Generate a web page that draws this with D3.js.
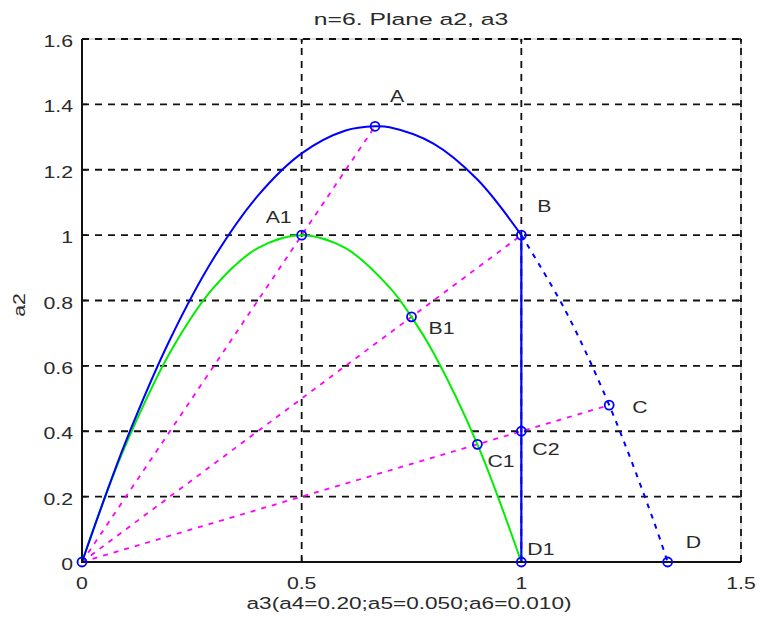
<!DOCTYPE html>
<html>
<head>
<meta charset="utf-8">
<script src="https://cdn.jsdelivr.net/npm/d3@7"></script>
<style>
  body { margin: 0; background: #fff; }
  svg text { font-family: "Liberation Sans", Arial, sans-serif; }
</style>
</head>
<body>
<svg id="chart" width="760" height="626"></svg>
<script>
// Outer boundary a2(a3): solid part up to B, dashed tail from B to D
const outerA3 = [0, 0.05, 0.1, 0.2, 0.3, 0.4, 0.5, 0.6, 0.667, 0.7, 0.8, 0.9, 1.0];
const outerA2 = [0, 0.19, 0.37, 0.68, 0.93, 1.12, 1.25, 1.32, 1.333, 1.33, 1.28, 1.17, 1.0];
const outerTailA3 = [1.0, 1.1, 1.2, 1.3, 1.333];
const outerTailA2 = [1.0, 0.77, 0.48, 0.13, 0];
// Inner boundary
const innerA3 = [0, 0.05, 0.1, 0.2, 0.3, 0.4, 0.5, 0.6, 0.7, 0.75, 0.8, 0.9, 1.0];
const innerA2 = [0, 0.19, 0.36, 0.64, 0.84, 0.96, 1.0, 0.96, 0.84, 0.75, 0.64, 0.36, 0];
// Marked points
const pointNames = ["O", "A", "A1", "B", "B1", "C", "C1", "C2", "D", "D1"];
const pointA3 = [0, 0.667, 0.5, 1.0, 0.75, 1.2, 0.9, 1.0, 1.333, 1.0];
const pointA2 = [0, 1.333, 1.0, 1.0, 0.75, 0.48, 0.36, 0.4, 0, 0];
// Rays from the origin and the vertical segment B-D1
const rayEnds = ["A", "B", "C"];
const segmentEnds = ["B", "D1"];
// Axes
const xTicks = [0, 0.5, 1, 1.5];
const xTickLabels = ["0", "0.5", "1", "1.5"];
const yTicks = [0, 0.2, 0.4, 0.6, 0.8, 1.0, 1.2, 1.4, 1.6];
const yTickLabels = ["0", "0.2", "0.4", "0.6", "0.8", "1", "1.2", "1.4", "1.6"];
const titleText = "n=6. Plane a2, a3";
const xLabelText = "a3(a4=0.20;a5=0.050;a6=0.010)";
const yLabelText = "a2";

const svg = d3.select("#chart");
const pLeft = 82, pRight = 741, pTop = 39, pBottom = 562;
const x = d3.scaleLinear().domain([0, 1.5]).range([pLeft, pRight]);
const y = d3.scaleLinear().domain([0, 1.6]).range([pBottom, pTop]);
const SX = 1.33;           // horizontal stretch of the text
const textColor = "#2a2a2a";

const pts = {};
pointNames.forEach((n, i) => pts[n] = [pointA3[i], pointA2[i]]);

// Plot frame (light top/right edges)
svg.append("line").attr("x1", pLeft).attr("x2", pRight).attr("y1", pTop).attr("y2", pTop)
  .attr("stroke", "#b8b8b8").attr("stroke-width", 1);
svg.append("line").attr("x1", pRight).attr("x2", pRight).attr("y1", pTop).attr("y2", pBottom)
  .attr("stroke", "#b8b8b8").attr("stroke-width", 1);

// Dashed grid
const grid = svg.append("g").attr("stroke", "#111").attr("stroke-width", 1.8)
  .attr("stroke-dasharray", "7,6");
xTicks.filter(t => t > 0).forEach(t => {
  grid.append("line").attr("x1", x(t)).attr("x2", x(t)).attr("y1", pBottom).attr("y2", pTop);
});
yTicks.filter(t => t > 0).forEach(t => {
  grid.append("line").attr("x1", pLeft).attr("x2", pRight).attr("y1", y(t)).attr("y2", y(t));
});

// Inward tick marks on all four sides
const ticks = svg.append("g").attr("stroke", "#111").attr("stroke-width", 1.5);
xTicks.forEach(t => {
  ticks.append("line").attr("x1", x(t)).attr("x2", x(t)).attr("y1", pBottom).attr("y2", pBottom - 5);
  ticks.append("line").attr("x1", x(t)).attr("x2", x(t)).attr("y1", pTop).attr("y2", pTop + 5);
});
yTicks.forEach(t => {
  ticks.append("line").attr("x1", pLeft).attr("x2", pLeft + 5).attr("y1", y(t)).attr("y2", y(t));
  ticks.append("line").attr("x1", pRight).attr("x2", pRight - 5).attr("y1", y(t)).attr("y2", y(t));
});

// Magenta rays from the origin
const rays = svg.append("g").attr("stroke", "#ff00ff").attr("stroke-width", 1.8)
  .attr("stroke-dasharray", "5,6").attr("fill", "none");
rayEnds.forEach(n => {
  rays.append("line").attr("x1", x(0)).attr("y1", y(0))
    .attr("x2", x(pts[n][0])).attr("y2", y(pts[n][1]));
});

const line = d3.line().x(d => x(d[0])).y(d => y(d[1])).curve(d3.curveCatmullRom.alpha(0.5));

// Inner curve (green)
svg.append("path").datum(innerA3.map((v, i) => [v, innerA2[i]]))
  .attr("d", line).attr("fill", "none").attr("stroke", "#00ee00").attr("stroke-width", 2);

// Outer curve (blue)
svg.append("path").datum(outerA3.map((v, i) => [v, outerA2[i]]))
  .attr("d", line).attr("fill", "none").attr("stroke", "#0000ff").attr("stroke-width", 2);
svg.append("path").datum(outerTailA3.map((v, i) => [v, outerTailA2[i]]))
  .attr("d", line).attr("fill", "none").attr("stroke", "#0000ff").attr("stroke-width", 2)
  .attr("stroke-dasharray", "5,6");

// Vertical segment B - D1
svg.append("line")
  .attr("x1", x(pts[segmentEnds[0]][0])).attr("y1", y(pts[segmentEnds[0]][1]))
  .attr("x2", x(pts[segmentEnds[1]][0])).attr("y2", y(pts[segmentEnds[1]][1]))
  .attr("stroke", "#0000ff").attr("stroke-width", 2.2);

// Axis lines (left, bottom)
svg.append("line").attr("x1", pLeft).attr("x2", pLeft).attr("y1", pTop).attr("y2", pBottom + 1)
  .attr("stroke", "#111").attr("stroke-width", 2);
svg.append("line").attr("x1", pLeft).attr("x2", pRight).attr("y1", pBottom).attr("y2", pBottom)
  .attr("stroke", "#111").attr("stroke-width", 2);

// Circle markers
svg.append("g").selectAll("circle").data(pointNames).join("circle")
  .attr("cx", n => x(pts[n][0])).attr("cy", n => y(pts[n][1])).attr("r", 4.5)
  .attr("fill", "none").attr("stroke", "#0000ff").attr("stroke-width", 1.8);

// Helper for horizontally stretched text
function stretchedText(px, py, str, anchor, size, sx, rotate) {
  const g = svg.append("g")
    .attr("transform", `translate(${px},${py})` + (rotate ? ` rotate(${rotate})` : "") + ` scale(${sx},1)`);
  g.append("text").attr("x", 0).attr("y", 0).attr("text-anchor", anchor)
    .attr("font-size", size).attr("fill", textColor).text(str);
  return g;
}

// Point labels
const labelOffset = {
  A: [15, -24], A1: [-36, -12], B: [16, -23], B1: [17, 17], C: [23, 8],
  C1: [10, 23], C2: [11, 24], D: [18, -14], D1: [6, -7]
};
pointNames.filter(n => labelOffset[n]).forEach(n => {
  stretchedText(x(pts[n][0]) + labelOffset[n][0], y(pts[n][1]) + labelOffset[n][1], n, "start", 16, SX);
});

// Tick labels
xTicks.forEach((t, i) => stretchedText(x(t), 589, xTickLabels[i], "middle", 16, SX));
yTicks.forEach((t, i) => stretchedText(73, y(t) + 8, yTickLabels[i], "end", 16, SX));

// Title and axis titles
stretchedText(411, 25, titleText, "middle", 16.5, 1.5);
stretchedText(409, 609, xLabelText, "middle", 17, SX);
stretchedText(25, 305, yLabelText, "middle", 16, SX, -90);
</script>
</body>
</html>
